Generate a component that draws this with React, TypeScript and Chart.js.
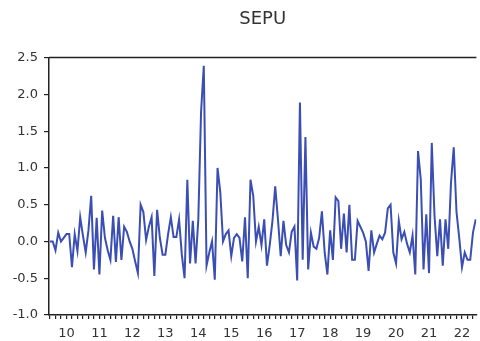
import { useEffect, useRef } from 'react';
import { Chart, registerables } from 'chart.js';

Chart.register(...registerables);

// Year tick labels (2010 ... 2022), monthly observations
const yearLabels = ['10', '11', '12', '13', '14', '15', '16', '17', '18', '19', '20', '21', '22'];
const yTicks = [-1.0, -0.5, 0.0, 0.5, 1.0, 1.5, 2.0, 2.5];

const sepu2010 = [0.0, 0.0, -0.12, 0.12, 0.0, 0.05, 0.1, 0.1, -0.35, 0.1, -0.13, 0.33];
const sepu2011 = [0.08, -0.15, 0.15, 0.62, -0.38, 0.32, -0.45, 0.42, 0.05, -0.12, -0.25, 0.35];
const sepu2012 = [-0.28, 0.33, -0.25, 0.2, 0.13, 0.0, -0.1, -0.27, -0.43, 0.5, 0.4, 0.02];
const sepu2013 = [0.2, 0.33, -0.47, 0.43, 0.05, -0.18, -0.18, 0.1, 0.33, 0.06, 0.06, 0.3];
const sepu2014 = [-0.18, -0.5, 0.84, -0.3, 0.28, -0.3, 0.3, 1.76, 2.39, -0.33, -0.15, 0.0];
const sepu2015 = [-0.52, 1.0, 0.67, 0.0, 0.1, 0.15, -0.2, 0.05, 0.1, 0.05, -0.27, 0.33];
const sepu2016 = [-0.5, 0.84, 0.62, 0.0, 0.2, -0.05, 0.3, -0.33, -0.05, 0.28, 0.75, 0.3];
const sepu2017 = [-0.2, 0.28, -0.05, -0.15, 0.13, 0.2, -0.53, 1.89, -0.25, 1.42, -0.38, 0.12];
const sepu2018 = [-0.07, -0.1, 0.05, 0.41, -0.15, -0.45, 0.15, -0.25, 0.6, 0.55, -0.1, 0.38];
const sepu2019 = [-0.15, 0.5, -0.25, -0.25, 0.28, 0.2, 0.12, 0.0, -0.4, 0.15, -0.15, -0.03];
const sepu2020 = [0.08, 0.03, 0.12, 0.45, 0.5, -0.15, -0.3, 0.28, 0.03, 0.13, -0.03, -0.15];
const sepu2021 = [0.08, -0.45, 1.23, 0.84, -0.38, 0.37, -0.43, 1.34, 0.35, -0.2, 0.3, -0.33];
const sepu2022 = [0.3, -0.1, 0.8, 1.28, 0.4, 0.05, -0.35, -0.15, -0.25, -0.25, 0.12, 0.3];

const sepuByYear = [
  sepu2010, sepu2011, sepu2012, sepu2013, sepu2014, sepu2015, sepu2016,
  sepu2017, sepu2018, sepu2019, sepu2020, sepu2021, sepu2022,
];

const AXIS_COLOR = '#222';
const TEXT_COLOR = '#333';
const LINE_COLOR = '#3b4eb3';

export default function App() {
  const ref = useRef<HTMLCanvasElement>(null);

  useEffect(() => {
    if (!ref.current) return;
    const values = sepuByYear.flat();
    const points = values.map((y, i) => ({ x: i, y }));

    const framePlugin = {
      id: 'topFrame',
      afterDraw(chart: any) {
        const { ctx, chartArea } = chart;
        ctx.save();
        ctx.strokeStyle = AXIS_COLOR;
        ctx.lineWidth = 1.5;
        ctx.beginPath();
        ctx.moveTo(chartArea.left, chartArea.top);
        ctx.lineTo(chartArea.right, chartArea.top);
        ctx.stroke();
        ctx.restore();
      },
    };

    const chart = new Chart(ref.current, {
      type: 'line',
      data: {
        datasets: [
          {
            data: points,
            borderColor: LINE_COLOR,
            borderWidth: 2,
            pointRadius: 0,
            tension: 0,
            borderJoinStyle: 'miter',
            fill: false,
          },
        ],
      },
      options: {
        animation: false,
        responsive: false,
        layout: { padding: 0 },
        plugins: {
          legend: { display: false },
          tooltip: { enabled: false },
          title: {
            display: true,
            text: 'SEPU',
            fullSize: false,
            color: TEXT_COLOR,
            font: { family: 'DejaVu Sans', size: 18, weight: 'normal' },
            padding: { top: 9, bottom: 27 },
          },
        },
        scales: {
          x: {
            type: 'linear',
            min: -0.36,
            max: 155.24,
            afterBuildTicks: (s: any) => {
              const t = [];
              for (let v = 0; v <= 154; v += 2) t.push({ value: v });
              s.ticks = t;
            },
            afterFit: (s: any) => {
              s.height = 26;
            },
            ticks: {
              autoSkip: false,
              maxRotation: 0,
              minRotation: 0,
              padding: 7,
              color: TEXT_COLOR,
              font: { family: 'DejaVu Sans', size: 13 },
              callback: (v: any) => {
                const n = Math.round(Number(v));
                if (n % 12 === 6) return yearLabels[(n - 6) / 12] ?? '';
                return '';
              },
            },
            grid: {
              drawOnChartArea: false,
              drawTicks: true,
              tickLength: 4,
              color: AXIS_COLOR,
              lineWidth: 1.2,
            },
            border: { display: true, color: AXIS_COLOR, width: 1.5 },
          },
          y: {
            min: -1,
            max: 2.5,
            afterBuildTicks: (s: any) => {
              s.ticks = yTicks.map((v) => ({ value: v }));
            },
            afterFit: (s: any) => {
              s.width = 49;
            },
            ticks: {
              padding: 6,
              color: TEXT_COLOR,
              font: { family: 'DejaVu Sans', size: 13 },
              callback: (v: any) => Number(v).toFixed(1),
            },
            grid: {
              drawOnChartArea: false,
              drawTicks: true,
              tickLength: 5,
              color: AXIS_COLOR,
              lineWidth: 1.2,
            },
            border: { display: true, color: AXIS_COLOR, width: 1.5 },
          },
        },
      },
      plugins: [framePlugin],
    } as any);

    return () => chart.destroy();
  }, []);

  return (
    <div style={{ position: 'fixed', left: 0, top: 0, width: 480, height: 341, background: '#fff', overflow: 'hidden' }}>
      <canvas ref={ref} width={480} height={341} style={{ display: 'block' }} />
    </div>
  );
}
